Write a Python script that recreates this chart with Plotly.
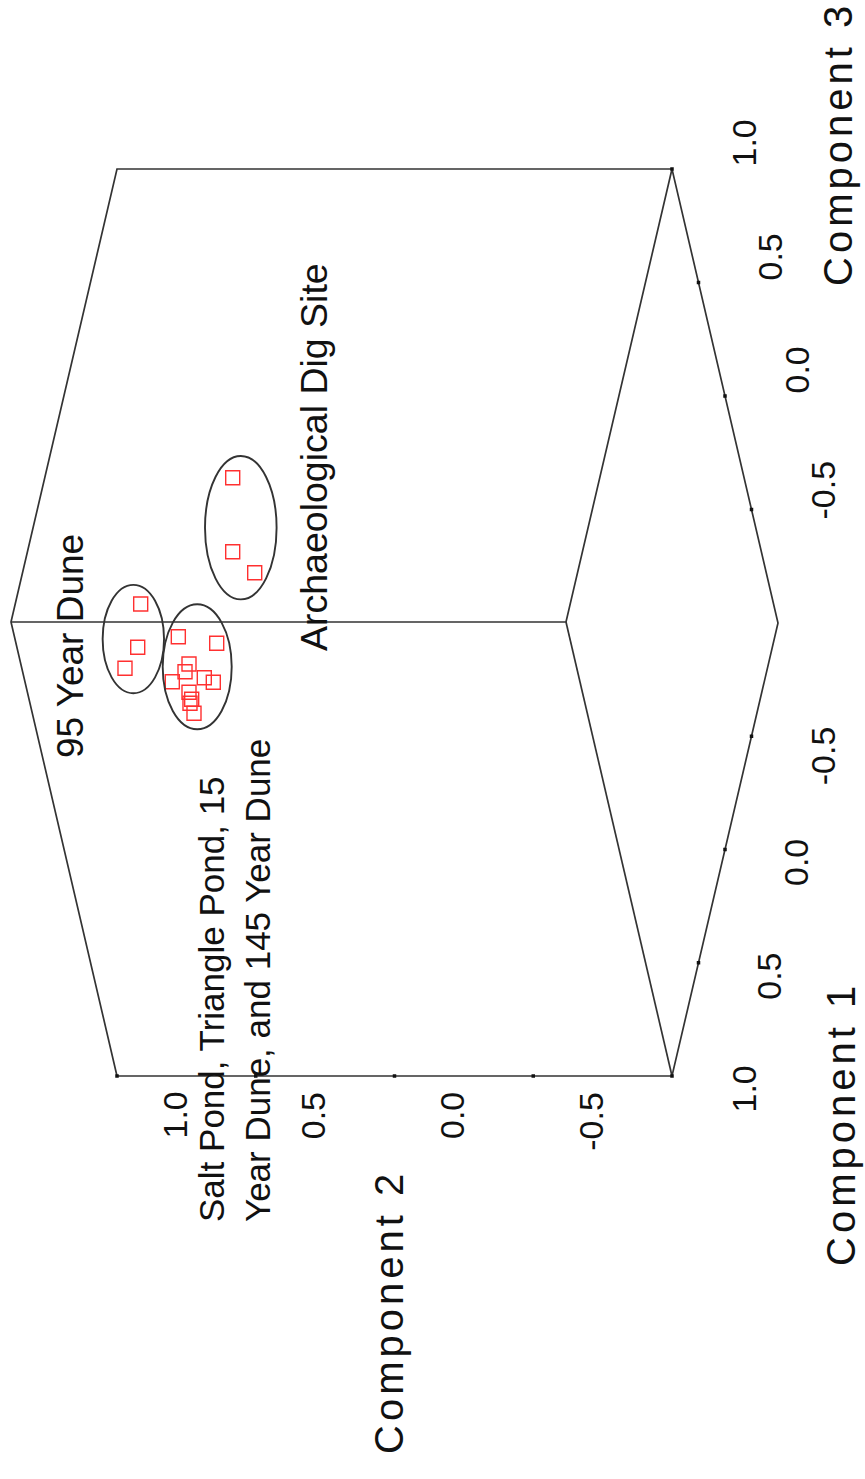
import plotly.graph_objects as go

# Principal-component scores of the soil samples (Component 1, 2, 3)
ARCH_C1 = [0.18, 0.25, 0.12]
ARCH_C2 = [0.3925, 0.4281, 0.4161]
ARCH_C3 = [0.8175, 0.5613, 0.3391]

DUNE95_C1 = [0.10, 0.15, 0.08]
DUNE95_C2 = [0.8609, 0.8890, 0.9792]
DUNE95_C3 = [0.1813, 0.0404, -0.1219]

SALT_C1 = [0.32, 0.40, 0.30, 0.28, 0.26, 0.36, 0.38, 0.30, 0.31, 0.29, 0.33]
SALT_C2 = [0.6689, 0.5056, 0.6610, 0.6895, 0.7513, 0.5945, 0.5583, 0.6848, 0.6772, 0.6943, 0.6730]
SALT_C3 = [0.2567, 0.3075, 0.1165, 0.0626, -0.0014, 0.1160, 0.1157, -0.0081, -0.0290, -0.0666, -0.0707]

GROUP_NAMES = ["Archaeological Dig Site", "95 Year Dune",
               "Salt Pond, Triangle Pond, 15<br>Year Dune, and 145 Year Dune"]

AXIS_MIN, AXIS_MAX = -1.0, 1.0
TICK_VALUES = [-0.5, 0.0, 0.5, 1.0]
TICK_LABELS = ["-0.5", "0.0", "0.5", "1.0"]
AXIS_TITLES = ["Component 1", "Component 2", "Component 3"]

# Oblique projection of the 3-D box onto the page (page pixels per unit)
ORIGIN = (394.5, 622.5)
E1 = (-53.0, 226.5)
E2 = (-277.5, 0.0)
E3 = (-53.0, -227.0)

W, H = 865, 1479
FONT = "Liberation Sans, Arial, sans-serif"
LINE = "#333333"


def project(c1, c2, c3):
    x = ORIGIN[0] + c1 * E1[0] + c2 * E2[0] + c3 * E3[0]
    y = ORIGIN[1] + c1 * E1[1] + c2 * E2[1] + c3 * E3[1]
    return x, y


def project_all(c1s, c2s, c3s):
    pts = [project(a, b, c) for a, b, c in zip(c1s, c2s, c3s)]
    return [p[0] for p in pts], [p[1] for p in pts]


fig = go.Figure()

# --- box frame -------------------------------------------------------------
lo, hi = AXIS_MIN, AXIS_MAX
corner = {
    "A": (lo, hi, hi), "B": (lo, lo, hi), "C": (hi, hi, hi), "D": (hi, lo, hi),
    "E": (lo, lo, lo), "F": (hi, hi, lo), "G": (hi, lo, lo),
}
paths = [["F", "C", "A", "B", "E", "G", "F"], ["C", "D", "B"], ["D", "G"]]
fx, fy = [], []
for path in paths:
    for k in path:
        x, y = project(*corner[k])
        fx.append(x)
        fy.append(y)
    fx.append(None)
    fy.append(None)
fig.add_trace(go.Scatter(x=fx, y=fy, mode="lines",
                         line=dict(color=LINE, width=1.7),
                         hoverinfo="skip", showlegend=False))

# --- tick marks -------------------------------------------------------------
tick_pts = {
    "c1": [project(t, lo, lo) for t in TICK_VALUES],
    "c2": [project(hi, t, lo) for t in TICK_VALUES],
    "c3": [project(lo, lo, t) for t in TICK_VALUES],
}
tx = [p[0] for k in tick_pts for p in tick_pts[k]]
ty = [p[1] for k in tick_pts for p in tick_pts[k]]
fig.add_trace(go.Scatter(x=tx, y=ty, mode="markers",
                         marker=dict(symbol="square", size=3.5, color="#111111"),
                         hoverinfo="skip", showlegend=False))

annotations = []
# tick labels: (offset x, offset of text end above/below tick)
label_offsets = {"c1": (71, -12), "c2": (57, 14), "c3": (71, -51)}
for key, pts in tick_pts.items():
    dx, dy = label_offsets[key]
    for (x, y), lab in zip(pts, TICK_LABELS):
        annotations.append(dict(
            x=x + dx, y=y + dy, xref="x", yref="y", text=lab, showarrow=False,
            textangle=-90, xanchor="center", yanchor="top",
            font=dict(family=FONT, size=34, color="#111111")))

# --- samples ----------------------------------------------------------------
groups = [
    (ARCH_C1, ARCH_C2, ARCH_C3),
    (DUNE95_C1, DUNE95_C2, DUNE95_C3),
    (SALT_C1, SALT_C2, SALT_C3),
]
# ellipse (centre shift from group box centre, radii), label placement and size
ellipse_style = [
    dict(shift=(-2.9, 2.5), r=(35.8, 71.7), label=(73.2, -70.7), size=37.5),
    dict(shift=(0.5, 2.9), r=(30.7, 54.2), label=(-63.3, 7.0), size=37),
    dict(shift=(2.7, -8.2), r=(34.5, 62.5), label=(36.8, 314.2), size=35),
]
shapes = []
for (c1s, c2s, c3s), name, st in zip(groups, GROUP_NAMES, ellipse_style):
    xs, ys = project_all(c1s, c2s, c3s)
    fig.add_trace(go.Scatter(
        x=xs, y=ys, mode="markers", name=name.replace("<br>", " "),
        marker=dict(symbol="square-open", size=14, color="#ff3030",
                    line=dict(width=1.4, color="#ff3030")),
        showlegend=False))
    cx = (min(xs) + max(xs)) / 2 + st["shift"][0]
    cy = (min(ys) + max(ys)) / 2 + st["shift"][1]
    rx, ry = st["r"]
    shapes.append(dict(type="circle", xref="x", yref="y",
                       x0=cx - rx, x1=cx + rx, y0=cy - ry, y1=cy + ry,
                       line=dict(color=LINE, width=1.9)))
    annotations.append(dict(
        x=cx + st["label"][0], y=cy + st["label"][1], xref="x", yref="y",
        text=name, showarrow=False, textangle=-90, align="left",
        xanchor="center", yanchor="middle",
        font=dict(family=FONT, size=st["size"], color="#111111")))

# --- axis titles --------------------------------------------------------------
title_pos = [(841, 1124), (389, 1312), (838, 144)]
for t, (x, y) in zip(AXIS_TITLES, title_pos):
    annotations.append(dict(
        x=x, y=y, xref="x", yref="y", showarrow=False, textangle=-90,
        text='<span style="letter-spacing:4px">' + t + "</span>",
        xanchor="center", yanchor="middle",
        font=dict(family=FONT, size=40, color="#111111")))

fig.update_layout(
    width=W, height=H, margin=dict(l=0, r=0, t=0, b=0),
    paper_bgcolor="white", plot_bgcolor="white",
    xaxis=dict(range=[0, W], visible=False, fixedrange=True),
    yaxis=dict(range=[H, 0], visible=False, fixedrange=True),
    shapes=shapes, annotations=annotations, showlegend=False,
)

fig.write_html("out.html")
